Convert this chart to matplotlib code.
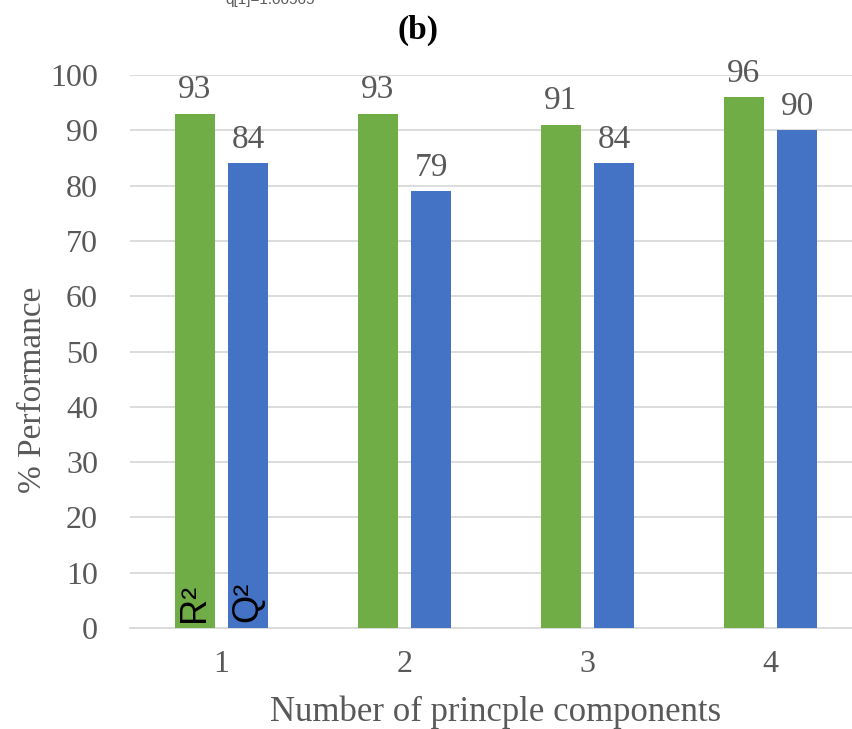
import numpy as np
import matplotlib
matplotlib.use("Agg")
import matplotlib.pyplot as plt

# ---- data ----
components = ["1", "2", "3", "4"]
r2 = [93, 93, 91, 96]
q2 = [84, 79, 84, 90]
yticks = [0, 10, 20, 30, 40, 50, 60, 70, 80, 90, 100]

GREEN, BLUE, GREY, GRID = "#70AD47", "#4472C4", "#595959", "#D9D9D9"
plt.rcParams["font.family"] = ["Liberation Serif", "DejaVu Serif"]

fig = plt.figure(figsize=(8.53, 7.29), dpi=100)
ax = fig.add_axes([130/853, 101/729, 732/853, 553/729])

x = np.arange(len(components))
w, off = 0.22, 0.145
b1 = ax.bar(x - off, r2, w, color=GREEN, zorder=3)
b2 = ax.bar(x + off, q2, w, color=BLUE, zorder=3)
for bars, vals in ((b1, r2), (b2, q2)):
    for b, v in zip(bars, vals):
        ax.text(b.get_x() + b.get_width()/2, v + 1.5, f"{v}", ha="center", va="bottom",
                fontsize=24, color=GREY)

# series names written inside the first pair of bars
sans = ["Liberation Sans", "DejaVu Sans"]
ax.text(x[0] - off, 1, "R²", rotation=90, ha="center", va="bottom", fontsize=26,
        color="black", family=sans, zorder=4)
ax.text(x[0] + off, 1, "Q²", rotation=90, ha="center", va="bottom", fontsize=26,
        color="black", family=sans, zorder=4)

ax.set_xlim(-0.5, len(components) - 0.5)
ax.set_ylim(0, 100)
ax.set_yticks(yticks)
ax.set_xticks(x)
ax.set_xticklabels(components)
ax.tick_params(axis="both", length=0, labelsize=23, colors=GREY)
ax.tick_params(axis="y", pad=23)
ax.tick_params(axis="x", pad=16)
ax.grid(axis="y", color=GRID, lw=1.3, zorder=0)
for s in ("top", "right", "left"):
    ax.spines[s].set_visible(False)
ax.spines["bottom"].set_color(GRID)
ax.spines["bottom"].set_linewidth(1.3)
ax.set_xlabel("Number of princple components", fontsize=25, color=GREY, labelpad=12)
ax.set_ylabel("% Performance", fontsize=24, color=GREY)
ax.yaxis.set_label_coords(-0.112, 0.43)

fig.text(418/853, 1 - 30/729, "(b)", ha="center", va="center", fontsize=24,
         fontweight="bold", color="black")
fig.text(270/853, 1.0, "q[1]=1.00565", ha="center", va="center", fontsize=11,
         color=GREY, family=sans)

fig.savefig("out.png", dpi=100)
